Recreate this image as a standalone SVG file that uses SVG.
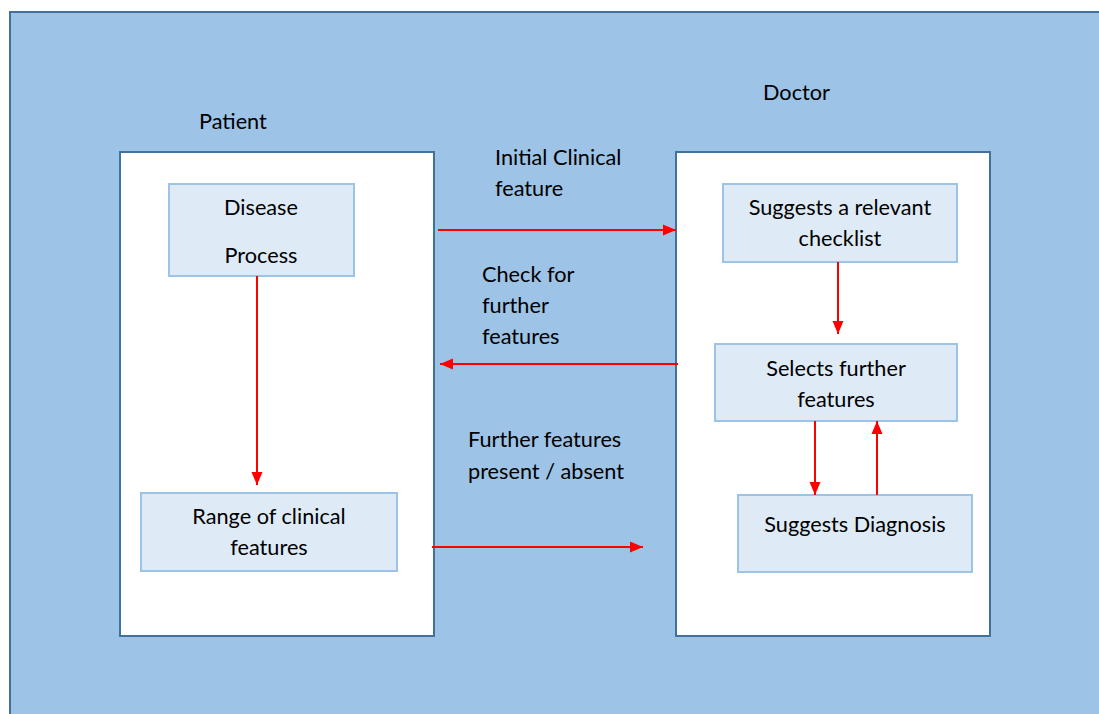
<svg xmlns="http://www.w3.org/2000/svg" width="1099" height="714" viewBox="0 0 1099 714">
  <style>
    .panel { fill: #ffffff; stroke: #41719C; stroke-width: 2; }
    .step { fill: #DEEBF7; stroke: #9DC3E6; stroke-width: 2; }
    .label { font-family: Lato, "Open Sans", sans-serif; font-size: 21.7px; fill: #000000; }
    .mid { text-anchor: middle; }
    .flow { stroke: #FF0000; stroke-width: 2; fill: none; marker-end: url(#head); }
  </style>
  <defs>
    <marker id="head" markerUnits="userSpaceOnUse" markerWidth="13" markerHeight="12" viewBox="0 0 13 12" refX="13" refY="6" orient="auto">
      <path d="M0,0.5 L13,6 L0,11.5 Z" fill="#FF0000"/>
    </marker>
  </defs>

  <rect width="1099" height="714" fill="#ffffff"/>
  <!-- background frame -->
  <rect x="10" y="12" width="1100" height="720" fill="#9DC3E6" stroke="#41719C" stroke-width="2"/>

  <!-- patient side -->
  <g id="patient">
    <rect class="panel" x="120" y="152" width="314" height="484"/>
    <text class="label" x="199" y="129">Patient</text>
  </g>
  <g id="disease-process">
    <rect class="step" x="169" y="184" width="185" height="92"/>
    <text class="label mid" x="261" y="215">Disease</text>
    <text class="label mid" x="261" y="263">Process</text>
  </g>
  <g id="range-features">
    <rect class="step" x="141" y="493" width="256" height="78"/>
    <text class="label mid" x="269" y="524">Range of clinical</text>
    <text class="label mid" x="269" y="555">features</text>
  </g>

  <!-- doctor side -->
  <g id="doctor">
    <rect class="panel" x="676" y="152" width="314" height="484"/>
    <text class="label" x="763" y="100">Doctor</text>
  </g>
  <g id="checklist">
    <rect class="step" x="723" y="184" width="234" height="78"/>
    <text class="label mid" x="840" y="215">Suggests a relevant</text>
    <text class="label mid" x="840" y="246">checklist</text>
  </g>
  <g id="selects-features">
    <rect class="step" x="715" y="344" width="242" height="77"/>
    <text class="label mid" x="836" y="376">Selects further</text>
    <text class="label mid" x="836" y="407">features</text>
  </g>
  <g id="diagnosis">
    <rect class="step" x="738" y="495" width="234" height="77"/>
    <text class="label mid" x="855" y="532">Suggests Diagnosis</text>
  </g>

  <!-- exchange labels -->
  <g id="exchange-labels">
    <text class="label" x="495" y="165">Initial Clinical</text>
    <text class="label" x="495" y="196">feature</text>
    <text class="label" x="482" y="282">Check for</text>
    <text class="label" x="482" y="313">further</text>
    <text class="label" x="482" y="344">features</text>
    <text class="label" x="468" y="447">Further features</text>
    <text class="label" x="468" y="479">present / absent</text>
  </g>

  <!-- connectors -->
  <g id="connectors">
    <line class="flow" x1="438" y1="230" x2="676" y2="230"/>
    <line class="flow" x1="678" y1="364" x2="440" y2="364"/>
    <line class="flow" x1="432" y1="547" x2="643" y2="547"/>
    <line class="flow" x1="257" y1="276" x2="257" y2="485"/>
    <line class="flow" x1="838" y1="262" x2="838" y2="334"/>
    <line class="flow" x1="815" y1="421" x2="815" y2="495"/>
    <line class="flow" x1="877" y1="495" x2="877" y2="421"/>
  </g>
</svg>
